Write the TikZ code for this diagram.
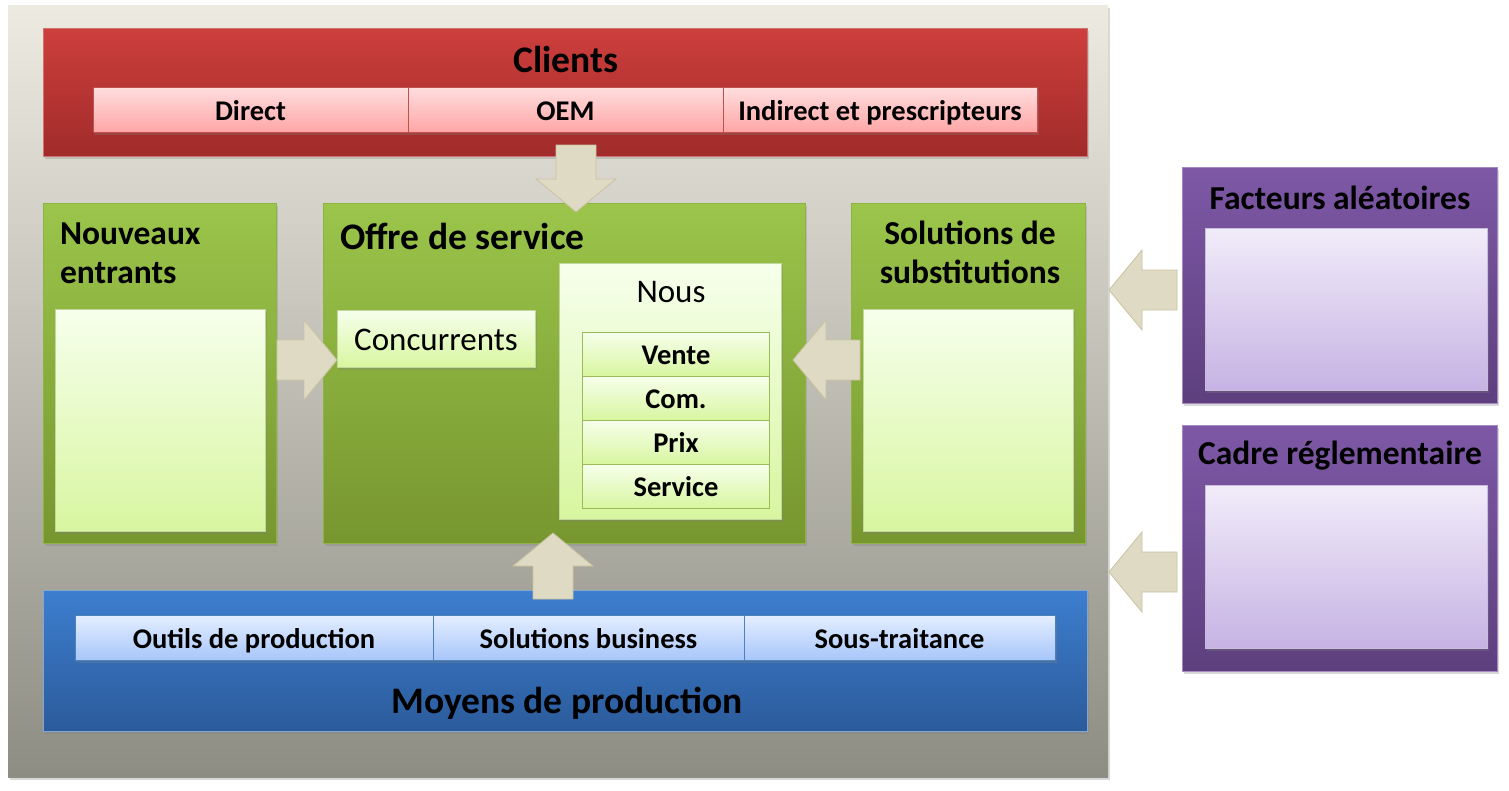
\documentclass[tikz,border=0pt]{standalone}
\usepackage{fontspec}
\setmainfont{Carlito}
\usetikzlibrary{calc,positioning,shadows}
\definecolor{bgtop}{HTML}{EDEBE1}\definecolor{bgbot}{HTML}{8E8D84}
\definecolor{redtop}{HTML}{CD3F3D}\definecolor{redbot}{HTML}{A12B2A}
\definecolor{pinktop}{HTML}{FFDEDE}\definecolor{pinkbot}{HTML}{FFA6A6}\definecolor{pinkline}{HTML}{C0504D}
\definecolor{greentop}{HTML}{9BC54B}\definecolor{greenbot}{HTML}{77962F}\definecolor{greenline}{HTML}{8DB443}
\definecolor{palegtop}{HTML}{F6FFEC}\definecolor{palegbot}{HTML}{D8F6A0}\definecolor{palegline}{HTML}{9BBB59}
\definecolor{bluetop}{HTML}{3D7ECF}\definecolor{bluebot}{HTML}{2B5B9B}
\definecolor{paletop}{HTML}{E4EEFF}\definecolor{palebot}{HTML}{A8C6FA}\definecolor{paleline}{HTML}{4F81BD}
\definecolor{violtop}{HTML}{7E58A6}\definecolor{violbot}{HTML}{5D3F7E}
\definecolor{lilactop}{HTML}{F1ECF9}\definecolor{lilacbot}{HTML}{C6B3E4}
\definecolor{arrowfill}{HTML}{DEDAC4}\definecolor{arrowline}{HTML}{C9C2A0}
\newcommand{\fatarrow}[2]{\coordinate (fa-h) at ($(#2)!33pt!(#1)$);
\filldraw[fat] ($(#1)!20pt!90:(#2)$) -- ($(fa-h)!20pt!90:(#2)$) -- ($(fa-h)!40pt!90:(#2)$) -- (#2) -- ($(fa-h)!40pt!-90:(#2)$) -- ($(fa-h)!20pt!-90:(#2)$) -- ($(#1)!20pt!-90:(#2)$) -- cycle;}
\begin{document}
\begin{tikzpicture}[x=1pt,y=-1pt,every node/.style={inner sep=0pt,outer sep=0pt},shade/.style={drop shadow={opacity=.3,shadow xshift=2pt,shadow yshift=-3pt}},panel/.style={shade,top color=bgtop,bottom color=bgbot},redbox/.style={shade,top color=redtop,bottom color=redbot,draw=pinkline!80!white,anchor=north west},celltext/.style={font=\fontsize{28.5}{31}\selectfont\bfseries,text height=25pt,text depth=4pt},pinkcell/.style={shade,celltext,top color=pinktop,bottom color=pinkbot,draw=pinkline,minimum width=315,minimum height=45},greenbox/.style={shade,top color=greentop,bottom color=greenbot,draw=greenline,anchor=north west},palebox/.style={shade,top color=palegtop,bottom color=palegbot,draw=palegline!60!white,anchor=north west},nousrow/.style={celltext,top color=palegtop,bottom color=palegbot,draw=palegline,minimum width=187,minimum height=44},bluebox/.style={shade,top color=bluetop,bottom color=bluebot,draw=paleline!70!white,anchor=north west},bluecell/.style={shade,celltext,top color=paletop,bottom color=palebot,draw=paleline,minimum height=45},violbox/.style={shade,top color=violtop,bottom color=violbot,draw=violtop!70!white,anchor=north west},lilacbox/.style={shade,top color=lilactop,bottom color=lilacbot,draw=violtop!40!white,anchor=north west},bigtitle/.style={font=\fontsize{37.5}{40}\selectfont\bfseries},midtitle/.style={font=\fontsize{33.5}{39}\selectfont\bfseries},plain/.style={font=\fontsize{33}{36}\selectfont},fat/.style={fill=arrowfill,draw=arrowline,line width=.8pt,line join=miter}]
\fill[white] (0,0) rectangle (1509,790); \useasboundingbox (0,0) rectangle (1509,790);
\node[panel,minimum width=1100,minimum height=772,anchor=north west] (panel) at (8,5) {};
\node[redbox,minimum width=1044,minimum height=128] (clients) at (43,28) {};
\node[bigtitle] (clientstitle) at (566,59) {Clients};
\node[pinkcell,anchor=north west] (direct) at (93,87) {Direct};
\node[pinkcell,right=0pt of direct] (oem) {OEM};
\node[pinkcell,right=0pt of oem,minimum width=314] (indirect) {Indirect et prescripteurs};
\node[greenbox,minimum width=233,minimum height=340] (nouveaux) at (43,203) {};
\node[greenbox,minimum width=482,minimum height=340] (offre) at (323,203) {};
\node[greenbox,minimum width=234,minimum height=340] (substit) at (851,203) {};
\node[midtitle,anchor=base west,align=left] (nouveauxtitle) at (60,283) {Nouveaux\\entrants};
\node[bigtitle,anchor=west] (offretitle) at (340,236) {Offre de service};
\node[midtitle,anchor=base,align=center] (substittitle) at (970,283) {Solutions de\\substitutions};
\node[palebox,minimum width=210,minimum height=222] (nouveauxin) at (55,309) {};
\node[palebox,minimum width=210,minimum height=222] (substitin) at (863,309) {};
\node[palebox,minimum width=198,minimum height=57] (concurrents) at (337,310) {};
\node[plain] (concurrentstxt) at (436,340) {Concurrents};
\node[palebox,minimum width=222,minimum height=256] (nous) at (559,263) {};
\node[plain] (noustitle) at (671,292) {Nous};
\foreach \lab/\nm [count=\i] in {Vente/vente,Com./com,Prix/prix,Service/service}
  \node[nousrow] (\nm) at (676,{310+44*\i}) {\lab};
\node[bluebox,minimum width=1044,minimum height=141] (moyens) at (43,590) {};
\node[bluecell,anchor=north west,minimum width=358] (outils) at (75,615) {Outils de production};
\node[bluecell,right=0pt of outils,minimum width=311] (business) {Solutions business};
\node[bluecell,right=0pt of business,minimum width=311] (soustrait) {Sous-traitance};
\node[bigtitle] (moyenstitle) at (567,703) {Moyens de production};
\node[violbox,minimum width=315,minimum height=236] (facteurs) at (1182,167) {};
\node[midtitle] (facteurstitle) at (1340,198) {Facteurs aléatoires};
\node[lilacbox,minimum width=282,minimum height=162] (facteursin) at (1205,228) {};
\node[violbox,minimum width=315,minimum height=246] (cadre) at (1182,425) {};
\node[midtitle] (cadretitle) at (1340,456) {Cadre réglementaire};
\node[lilacbox,minimum width=282,minimum height=163] (cadrein) at (1205,485) {};
\coordinate (dn-s) at (576,145); \coordinate (dn-t) at (576,212);
\coordinate (rt-s) at (277,360); \coordinate (rt-t) at (337,360);
\coordinate (lt-s) at (860,360); \coordinate (lt-t) at (793,360);
\coordinate (up-s) at (553,599); \coordinate (up-t) at (553,533);
\coordinate (fa-s) at (1177,290); \coordinate (fa-t) at (1109,290);
\coordinate (ca-s) at (1177,572); \coordinate (ca-t) at (1109,572);
\fatarrow{dn-s}{dn-t} \fatarrow{rt-s}{rt-t} \fatarrow{lt-s}{lt-t}
\fatarrow{up-s}{up-t} \fatarrow{fa-s}{fa-t} \fatarrow{ca-s}{ca-t}
\end{tikzpicture}
\end{document}
